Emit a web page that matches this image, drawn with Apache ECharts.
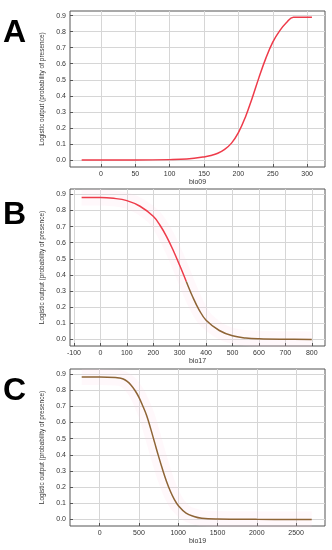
<!DOCTYPE html>
<html><head><meta charset="utf-8">
<script src="https://cdn.jsdelivr.net/npm/echarts@6/dist/echarts.min.js"></script>
<style>html,body{margin:0;padding:0;background:#fff}#c{width:332px;height:550px}</style>
</head><body><div id="c"></div>
<script>
// Panel A: bio09
const bio09X = [-28,0,50,100,125,150,160,170,180,190,200,210,220,230,240,250,260,270,280,307];
const bio09Y = [0,0,0,0.002,0.006,0.019,0.028,0.042,0.066,0.105,0.17,0.265,0.385,0.515,0.635,0.735,0.805,0.857,0.89,0.89];
const bio09Ticks = [0,50,100,150,200,250,300];
// Panel B: bio17
const bio17X = [-71,0,50,100,150,200,225,250,275,300,325,350,375,400,450,500,550,600,700,800];
const bio17Y = [0.88,0.88,0.875,0.861,0.826,0.764,0.71,0.64,0.555,0.46,0.36,0.262,0.18,0.12,0.056,0.023,0.01,0.005,0.002,0.001];
const bio17Ticks = [-100,0,100,200,300,400,500,600,700,800];
// Panel C: bio19
const bio19X = [-229,0,200,250,300,350,400,450,500,550,600,650,700,750,800,850,900,950,1000,1100,1200,1300,1500,2000,2700];
const bio19Y = [0.88,0.88,0.878,0.875,0.868,0.853,0.83,0.797,0.755,0.70,0.64,0.56,0.475,0.39,0.31,0.237,0.175,0.125,0.087,0.04,0.019,0.008,0.003,0.001,0];
const bio19Ticks = [0,500,1000,1500,2000,2500];
const yTicks = [0,0.1,0.2,0.3,0.4,0.5,0.6,0.7,0.8,0.9];
const yName = 'Logistic output (probability of presence)';
const panelLetters = ['A','B','C'];

const RED = '#ee3b4a', BROWN = '#8e6436';
const grids = [
  {left:70, top:11, width:255, height:156},
  {left:70, top:189, width:255, height:157},
  {left:70, top:369, width:255, height:157}
];
const xr = [[-45,326],[-115,850],[-378,2869]];
const yr = [[-0.044,0.929],[-0.04,0.933],[-0.04,0.93]];
const xt = [bio09Ticks,bio17Ticks,bio19Ticks];
const xn = ['bio09','bio17','bio19'];
const lab = {fontSize:7, color:'#333', fontFamily:'Liberation Sans'};
const GRIDC = '#d6d6d6';

const xAxis = [], yAxis = [];
for (let i=0;i<3;i++){
  xAxis.push({type:'value', gridIndex:i, min:xr[i][0], max:xr[i][1],
    name:xn[i], nameLocation:'middle', nameGap:12, nameTextStyle:{fontSize:7,color:'#333',fontFamily:'Liberation Sans'},
    axisLine:{show:false, onZero:false}, axisTick:{show:true, inside:true, length:3, customValues:xt[i], lineStyle:{color:'#555'}},
    axisLabel:Object.assign({customValues:xt[i], margin:4, formatter:v=>String(v)}, lab),
    splitLine:{show:true, lineStyle:{color:GRIDC, width:1}}});
  yAxis.push({type:'value', gridIndex:i, min:yr[i][0], max:yr[i][1],
    name:yName, nameLocation:'middle', nameGap:13, nameRotate:90,
    nameTextStyle:{fontSize:6.5,color:'#333',fontFamily:'Liberation Sans'},
    axisLine:{show:false, onZero:false}, axisTick:{show:true, inside:true, length:3, customValues:yTicks, lineStyle:{color:'#555'}},
    axisLabel:Object.assign({customValues:yTicks, margin:4, formatter:v=>v.toFixed(1)}, lab),
    splitLine:{show:true, lineStyle:{color:GRIDC, width:1}}});
}
function pairs(xs, ys, f){ const r=[]; for(let i=0;i<xs.length;i++){ if(!f||f(xs[i])) r.push([xs[i],ys[i]]); } return r; }
const line = (ax, data, color, width, z)=>({type:'line', xAxisIndex:ax, yAxisIndex:ax, data, smooth:0.4, showSymbol:false, lineStyle:{color, width}, z});
// horizontal grid lines: dummy series per panel carrying markLines, drawn below curves
const gridSeries = [0,1,2].map(ax=>({type:'line', xAxisIndex:ax, yAxisIndex:ax, data:[], z:0, silent:true,
  markLine:{silent:true, symbol:'none', label:{show:false}, z:0, lineStyle:{color:GRIDC, type:'solid', width:1}, data:yTicks.map(v=>({yAxis:v}))}}));
const series = gridSeries.concat([
  line(0, pairs(bio09X,bio09Y), RED, 1.5, 3),
  line(1, pairs(bio17X,bio17Y), 'rgba(255,210,225,0.15)', 16, 1),
  line(1, pairs(bio17X,bio17Y,x=>x<=325), RED, 1.5, 3),
  line(1, pairs(bio17X,bio17Y,x=>x>=325), BROWN, 1.5, 3),
  line(2, pairs(bio19X,bio19Y), 'rgba(255,210,225,0.15)', 16, 1),
  line(2, pairs(bio19X,bio19Y), BROWN, 1.5, 3)
]);
const letterY = [17, 199, 375];
const graphic = panelLetters.map((t,i)=>({type:'text', left:3, top:letterY[i], style:{text:t, font:'bold 32px "Liberation Sans"', fill:'#000'}}));
const chart = echarts.init(document.getElementById('c'), null, {renderer:'canvas'});
chart.setOption({
  animation:false, backgroundColor:'#fff',
  grid: grids.map(g=>Object.assign({show:true, borderColor:'#555', borderWidth:1, backgroundColor:'transparent'}, g)),
  xAxis, yAxis, series, graphic
});
</script></body></html>
